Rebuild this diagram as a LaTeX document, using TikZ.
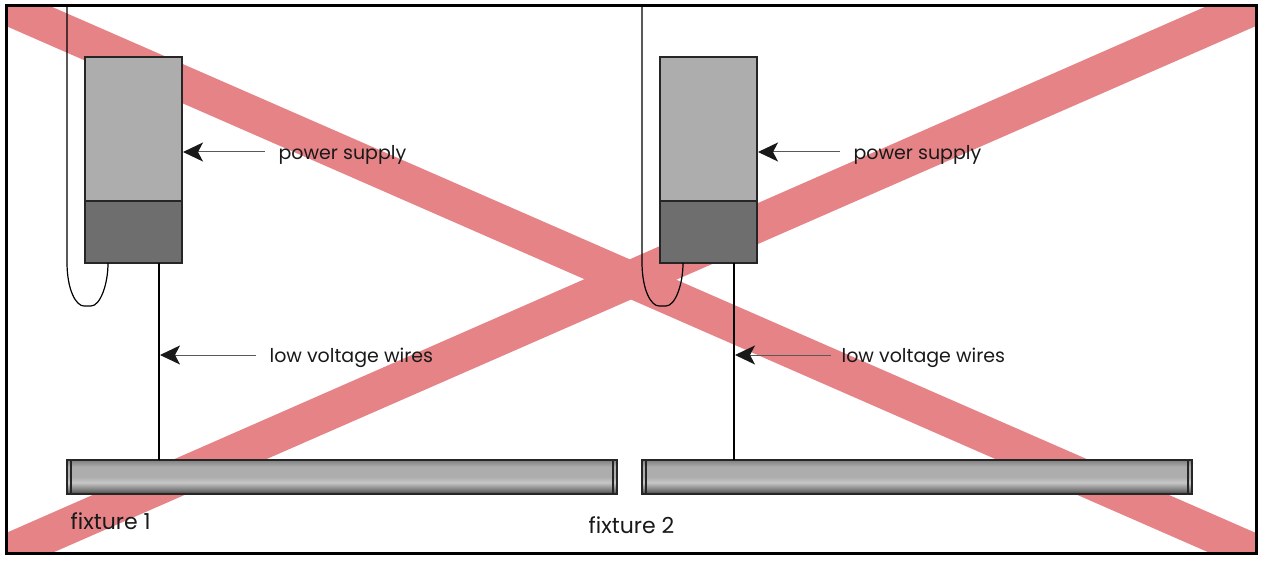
\documentclass[tikz,border=0pt]{standalone}
\usepackage{xcolor}
\usepackage{fontspec}
\setmainfont{Poppins}
\usetikzlibrary{arrows.meta, positioning}
\definecolor{crossred}{HTML}{E68387}
\definecolor{supplylight}{HTML}{ADADAD}
\definecolor{supplydark}{HTML}{6E6E6E}
\pgfdeclareverticalshading{fixshade}{100bp}{
	color(0bp)=(black!75); color(25bp)=(black!75); color(30bp)=(black!55); color(42bp)=(black!22);
	color(50bp)=(black!32); color(65bp)=(black!32); color(75bp)=(black!50); color(100bp)=(black!50)}

\begin{document}
\begin{tikzpicture}[x=1pt, y=-1pt, >={Stealth[length=20pt, width=19pt, inset=5pt, color=black!90]}, line width=1.2pt]
		\tikzstyle{supply}=[rectangle, draw=black!85, minimum width=97pt, outer sep=0pt, inner sep=0pt]
		\tikzstyle{fixture}=[rectangle, draw=black!85, shading=fixshade, minimum width=550pt, minimum height=34pt, outer sep=0pt, inner sep=0pt]
		\tikzstyle{callout}=[font=\fontsize{19pt}{22pt}\selectfont, text=black!90, anchor=west, inner sep=0pt, text height=17pt, text depth=3pt]
		\tikzstyle{fixname}=[font=\fontsize{22pt}{24pt}\selectfont, text=black!90, anchor=west, inner sep=0pt]
		\tikzstyle{pointer}=[<-, draw=black!65, line width=1pt, shorten <=1pt]
		\tikzstyle{wire}=[draw=black, line width=1.2pt]

		\useasboundingbox (0,0) rectangle (1266,567);

		% red cross behind everything
		\fill[crossred] (6,6) -- (50,6) -- (1256,533) -- (1256,553) -- (1210,553) -- (6,26) -- cycle;
		\fill[crossred] (6,533) -- (1207,6) -- (1256,6) -- (1256,26) -- (52,553) -- (6,553) -- cycle;
		\node[rectangle, draw=black, line width=3pt, minimum width=1250pt, minimum height=547pt, outer sep=0pt, inner sep=0pt] (frame) at (631,279.5) {};

		% left set
		\node[supply, fill=supplylight, minimum height=144pt] (boxTopA) at (133.5,129) {};
		\node[supply, fill=supplydark, minimum height=62pt, below=0pt of boxTopA] (boxBotA) {};
		\node[fixture] (fixA) at (342,477) {};
		\coordinate (wireA) at (159,460);
		\coordinate (cordA) at (67,6);

		% right set
		\node[supply, fill=supplylight, minimum height=144pt, right=478pt of boxTopA] (boxTopB) {};
		\node[supply, fill=supplydark, minimum height=62pt, below=0pt of boxTopB] (boxBotB) {};
		\node[fixture, right=25pt of fixA] (fixB) {};
		\coordinate (wireB) at (734,460);
		\coordinate (cordB) at (642,6);

		\draw[black!85] ([xshift=4pt]fixA.north west) -- ([xshift=4pt]fixA.south west);
		\draw[black!85] ([xshift=-4pt]fixA.north east) -- ([xshift=-4pt]fixA.south east);
		\draw[black!85] ([xshift=4pt]fixB.north west) -- ([xshift=4pt]fixB.south west);
		\draw[black!85] ([xshift=-4pt]fixB.north east) -- ([xshift=-4pt]fixB.south east);

		% wires
		\draw[wire] (boxBotA.south -| wireA) -- (wireA);
		\draw[wire] (boxBotB.south -| wireB) -- (wireB);
		\draw[wire] (cordA) -- (67,262) .. controls (67,290) and (76,306) .. (84,306) -- (91,306) .. controls (100,306) and (108,285) .. (108,263);
		\draw[wire] (cordB) -- (642,262) .. controls (642,290) and (651,306) .. (659,306) -- (666,306) .. controls (675,306) and (683,285) .. (683,263);

		% labels
		\node[callout] (powerA) at (278,152) {power supply};
		\node[callout] (powerB) at (853,152) {power supply};
		\node[callout] (lowA) at (269,355) {low voltage wires};
		\node[callout] (lowB) at (841,355) {low voltage wires};
		\node[fixname] (nameA) at (70,521) {fixture 1};
		\node[fixname] (nameB) at (588,525) {fixture 2};

		\draw[pointer] (powerA.west -| boxTopA.east) -- ([xshift=-13pt]powerA.west);
		\draw[pointer] (powerB.west -| boxTopB.east) -- ([xshift=-13pt]powerB.west);
		\draw[pointer] (lowA.west -| wireA) -- ([xshift=-13pt]lowA.west);
		\draw[pointer] (lowB.west -| wireB) -- ([xshift=-10pt]lowB.west);
	\end{tikzpicture}
\end{document}
